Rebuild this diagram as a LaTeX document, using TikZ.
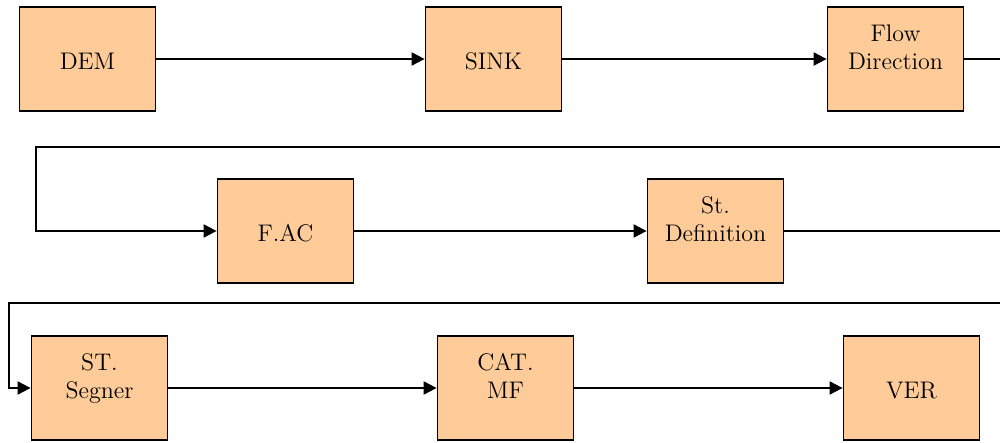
\documentclass[tikz,border=0pt]{standalone}
\usetikzlibrary{positioning,arrows.meta}

\definecolor{peach}{RGB}{255,204,153}

\tikzset{
    stage/.style={draw=black,line width=0.9pt,fill=peach,inner sep=0pt,
        minimum width=68pt,text height=31.25pt,text depth=20.75pt,
        align=center,font=\fontsize{12}{14}\selectfont},
    flow/.style={line width=1pt,-{Triangle[length=6.5pt,width=6.5pt]}}
}

\begin{document}
\begin{tikzpicture}[x=0.5pt,y=-0.5pt,node distance=203pt]
    \useasboundingbox (0,0) rectangle (1000,443);

    % first row
    \node[stage] (dem) at (87.5,59) {DEM};
    \node[stage,right of = dem] (sink) {SINK};
    \node[stage,right of = sink,xshift=-2pt] (flowdir) {Flow\\Direction};

    % second row
    \node[stage] (fac) at (285.5,231) {F.AC};
    \node[stage,right of = fac,xshift=12pt] (stdef) {St.\\Definition};

    % third row
    \node[stage] (segner) at (99.5,388) {ST.\\Segner};
    \node[stage,right of = segner] (catmf) {CAT.\\MF};
    \node[stage,right of = catmf] (ver) {VER};

    % return lines run out past the right edge
    \coordinate (edgeA) at (1020,147);
    \coordinate (bendA) at (36,147);
    \coordinate (edgeB) at (1020,303);
    \coordinate (bendB) at (9,303);

    \draw[flow] (dem) -- (sink);
    \draw[flow] (sink) -- (flowdir);
    \draw[flow] (flowdir.east) -| (edgeA) -- (bendA) |- (fac.west);
    \draw[flow] (fac) -- (stdef);
    \draw[flow] (stdef.east) -| (edgeB) -- (bendB) |- (segner.west);
    \draw[flow] (segner) -- (catmf);
    \draw[flow] (catmf) -- (ver);
\end{tikzpicture}
\end{document}
